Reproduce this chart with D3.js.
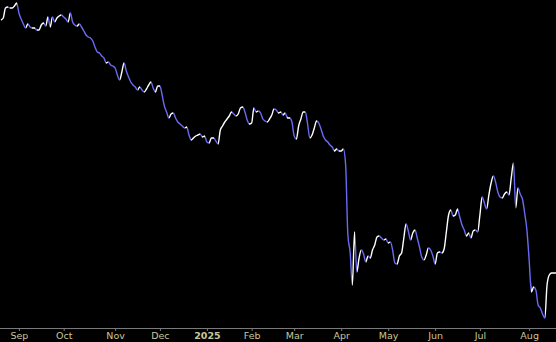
<!DOCTYPE html>
<html>
<head>
<meta charset="utf-8">
<script src="https://cdn.jsdelivr.net/npm/d3@7"></script>
<style>
	html, body { margin: 0; padding: 0; background: #000; }
	#graph { width: 556px; height: 342px; }
</style>
</head>
<body>
<div id="graph"></div>
<script>
	// daily closes, Aug 21 2024 .. Aug 19 2025 (one per trading day)
	var closes = [
		38.0, 38.2, 39.2, 39.3, 39.2, 39.2, 39.4, 39.7, 38.7, 38.1,
		37.6, 37.2, 37.6, 37.3, 37.2, 37.2, 37.0, 37.0, 37.5, 37.7,
		37.4, 38.3, 37.3, 38.3, 37.8, 38.2, 38.4, 38.5, 38.3, 38.1,
		37.8, 38.7, 37.8, 37.5, 37.4, 37.6, 37.3, 36.9, 36.5, 36.3,
		36.2, 35.9, 35.3, 34.8, 34.7, 34.4, 34.2, 33.7, 33.8, 33.5,
		33.4, 33.2, 32.5, 32.0, 32.8, 33.7, 32.9, 32.3, 31.8, 31.5,
		31.3, 31.0, 31.3, 31.0, 30.8, 31.1, 31.5, 31.8, 31.2, 30.8,
		31.4, 31.4, 30.5, 29.4, 28.8, 28.2, 28.6, 28.7, 28.2, 27.8,
		27.6, 27.4, 27.2, 27.3, 26.5, 26.0, 26.2, 26.4, 26.5, 26.6,
		26.3, 26.4, 25.8, 25.7, 26.2, 26.2, 25.9, 25.6, 27.0, 27.4,
		27.8, 28.1, 28.4, 28.8, 28.6, 28.4, 28.6, 29.2, 29.3, 28.8,
		28.0, 27.6, 27.7, 29.2, 28.8, 28.9, 28.7, 28.1, 27.9, 27.8,
		28.1, 28.5, 29.1, 29.0, 28.7, 28.8, 28.5, 28.7, 28.2, 28.2,
		27.8, 26.4, 26.1, 27.4, 28.1, 28.8, 28.8, 27.6, 26.2, 26.5,
		27.2, 27.9, 27.7, 27.1, 26.4, 26.0, 25.8, 25.5, 25.3, 24.9,
		25.1, 24.9, 24.9, 25.1, 23.5, 16.5, 14.8, 11.5, 16.8, 12.8,
		14.2, 15.0, 14.6, 13.8, 14.4, 14.2, 15.0, 15.5, 16.3, 16.4,
		16.2, 16.0, 16.1, 15.7, 15.8, 15.0, 13.7, 13.6, 14.4, 14.7,
		16.2, 17.6, 16.9, 16.0, 16.7, 17.0, 16.2, 15.3, 14.3, 14.0,
		14.5, 15.2, 15.0, 14.4, 13.6, 14.7, 14.8, 14.7, 15.1, 16.8,
		18.5, 19.0, 18.4, 18.5, 19.1, 18.3, 17.5, 17.0, 16.4, 16.7,
		16.2, 16.9, 17.0, 16.8, 18.5, 20.3, 19.7, 19.1, 20.5, 21.7,
		22.4, 21.8, 20.8, 20.3, 20.2, 20.6, 20.8, 20.5, 22.2, 23.7,
		19.2, 21.2, 20.6, 20.1, 18.7, 17.0, 14.0, 10.8, 11.3, 11.0,
		9.5, 9.2, 8.6, 8.2, 11.5, 12.5, 12.7, 12.7, 12.7
	];

	// first trading day of each month, as index into closes
	var monthIndex = [8, 28, 51, 71, 92, 112, 131, 152, 173, 194, 214, 236];
	var monthLabels = ["Sep", "Oct", "Nov", "Dec", "2025", "Feb", "Mar", "Apr", "May", "Jun", "Jul", "Aug"];

	var width = 556, height = 342;
	var axis_y = 328;

	var svg = d3.select("#graph").append("svg")
		.attr("width", width)
		.attr("height", height)
		.style("display", "block")
		.style("background", "#000");

	let xScale = d3.scaleLinear().domain([0, closes.length - 1]).range([1, width]);
	let yScale = d3.scaleLinear().domain([8, 40]).range([320, 0]);

	// up moves white, down moves blue: hard stops along x
	let grad = svg.append("defs").append("linearGradient")
		.attr("id", "updown")
		.attr("gradientUnits", "userSpaceOnUse")
		.attr("x1", 0).attr("x2", width)
		.attr("y1", 0).attr("y2", 0);

	let stops = [];
	for(let k = 0; k < closes.length - 1; k++){
		let color = closes[k + 1] >= closes[k] ? "#ffffff" : "#6a6af2";
		stops.push({off: xScale(k) / width, color});
		stops.push({off: xScale(k + 1) / width, color});
	}
	grad.selectAll("stop")
		.data(stops)
		.join("stop")
		.attr("offset", d => d.off)
		.attr("stop-color", d => d.color);

	let drawline = d3.line()
		.x((d, i) => xScale(i))
		.y(d => yScale(d))
		.curve(d3.curveMonotoneX);

	svg.append("path")
		.attr("d", drawline(closes))
		.attr("fill", "none")
		.attr("stroke", "url(#updown)")
		.attr("stroke-width", 1.4)
		.attr("stroke-linejoin", "round");

	// X Axis
	let xAxis = svg.append("g")
		.attr("transform", `translate(0,${axis_y})`)
		.call(d3.axisBottom(xScale)
			.tickValues(monthIndex)
			.tickFormat((d, i) => monthLabels[i])
			.tickSize(3)
			.tickSizeOuter(0)
			.tickPadding(1));

	xAxis.select(".domain")
		.attr("d", `M0,0.5H${width}`)
		.attr("stroke", "#7a7a7a");
	xAxis.selectAll(".tick line").attr("stroke", "#7a7a7a");
	xAxis.selectAll(".tick text")
		.attr("fill", "#c9c79a")
		.style("font-family", "'DejaVu Sans', sans-serif")
		.style("font-size", "9.5px")
		.style("font-weight", d => d === 92 ? "bold" : "normal");
</script>
</body>
</html>
